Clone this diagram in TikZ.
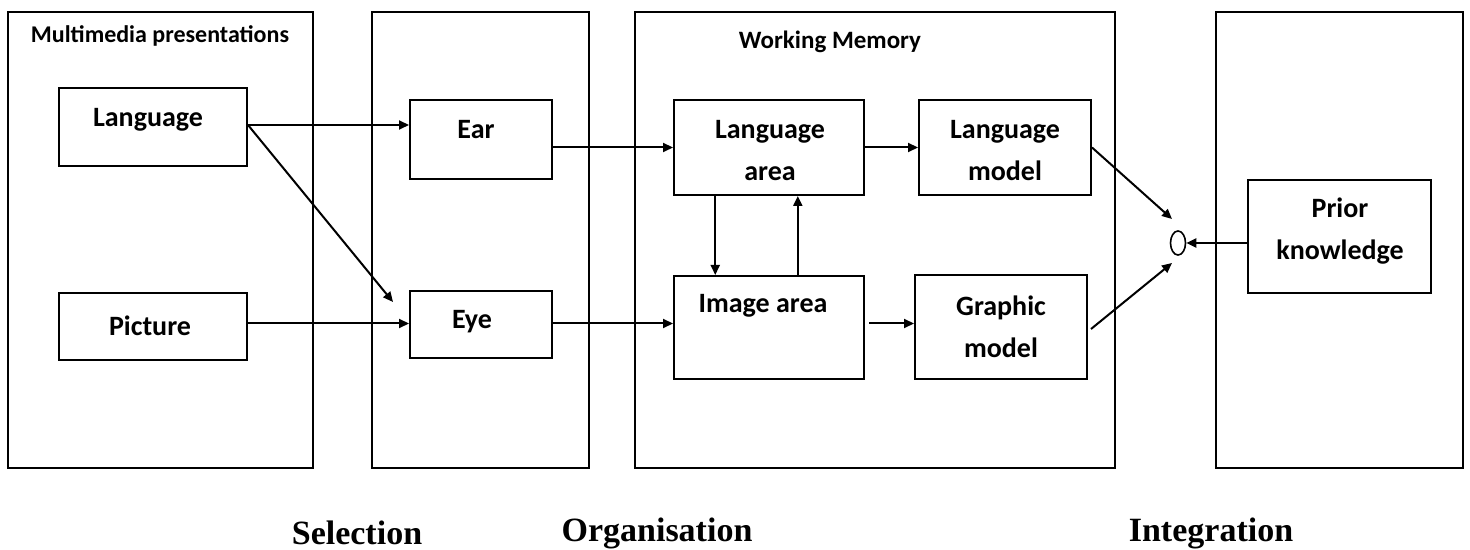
\documentclass[tikz,border=0pt]{standalone}
\usepackage{fontspec}
\setmainfont{Carlito}
\newfontfamily\labfont{Liberation Serif}
\usetikzlibrary{arrows.meta,shapes.geometric,fit,calc}
\begin{document}
\begin{tikzpicture}[x=0.5pt,y=-0.5pt,
  frame/.style={draw,line width=1pt,inner sep=0pt},
  box/.style={draw,line width=1pt,inner sep=0pt},
  txt/.style={font=\bfseries\fontsize{14}{21}\selectfont,align=center,inner sep=0pt},
  head/.style={font=\bfseries\fontsize{12}{14}\selectfont,inner sep=0pt},
  phase/.style={font=\labfont\bfseries\fontsize{17}{20}\selectfont,inner sep=0pt},
  arr/.style={line width=1pt,-{Triangle[length=5pt,width=4.5pt]}}]
\useasboundingbox (0,0) rectangle (1470,550);
% big frames
\node[frame,fit={(8,12)(313,468)}] (f1) {};
\node[frame,fit={(372,12)(589,468)}] (f2) {};
\node[frame,fit={(635,12)(1115,468)}] (f3) {};
\node[frame,fit={(1216,12)(1463,468)}] (f4) {};
% headings
\node[head] (hmm) at (160,36) {Multimedia presentations};
\node[head,font=\bfseries\fontsize{12.5}{14}\selectfont] (hwm) at (830,42) {Working Memory};
% inner boxes
\node[box,fit={(59,88)(247,166)}] (lang) {};
\node[box,fit={(59,293)(247,360)}] (pic) {};
\node[box,fit={(410,100)(552,179)}] (ear) {};
\node[box,fit={(410,291)(552,358)}] (eye) {};
\node[box,fit={(674,100)(864,195)}] (larea) {};
\node[box,fit={(674,276)(864,379)}] (iarea) {};
\node[box,fit={(919,100)(1091,195)}] (lmodel) {};
\node[box,fit={(915,275)(1087,379)}] (gmodel) {};
\node[box,fit={(1248,180)(1431,293)}] (prior) {};
\node[draw,line width=0.8pt,ellipse,inner sep=0pt,minimum width=7.5pt,minimum height=12pt] (el) at (1178,243) {};
% texts
\node[txt] (tlang) at (148,120) {Language};
\node[txt] (tpic) at (150,326) {Picture};
\node[txt] (tear) at (476,130) {Ear};
\node[txt] (teye) at (472,322) {Eye};
\node[txt] (tlarea) at (770,151) {Language\\area};
\node[txt] (tiarea) at (763,306) {Image area};
\node[txt] (tlmodel) at (1005,151) {Language\\model};
\node[txt] (tgmodel) at (1001,327) {Graphic\\model};
\node[txt] (tprior) at (1340,231) {Prior\\knowledge};
% bottom labels
\node[phase] (psel) at (357,533) {Selection};
\node[phase] (porg) at (657,533) {Organisation};
\node[phase] (pint) at (1211,533) {Integration};
% connectors
\coordinate (diagend) at ($(eye.north west)+(-16,12)$);
\draw[arr] ($(lang.east)+(0,-2)$) -- ($(lang.east -| ear.west)+(0,-2)$);
\draw[arr] ($(lang.east)+(0,-2)$) -- (diagend);
\draw[arr] ($(pic.east)+(0,-3)$) -- ($(pic.east -| eye.west)+(0,-3)$);
\draw[arr] (larea.west -| ear.east) -- (larea.west);
\draw[arr] ($(eye.east)+(0,-1)$) -- ($(eye.east -| iarea.west)+(0,-1)$);
\draw[arr] (larea.east) -- (lmodel.west);
\draw[arr] ($(iarea.east)+(4,-4)$) -- ($(iarea.east -| gmodel.west)+(0,-4)$);
\draw[arr] ($(larea.south west)!0.22!(larea.south east)$) -- ($(iarea.north west)!0.22!(iarea.north east)$);
\draw[arr] ($(iarea.north west)!0.65!(iarea.north east)$) -- ($(larea.south west)!0.65!(larea.south east)$);
\coordinate (elin1) at ($(el.center)+(-6,-24)$);
\coordinate (elin2) at ($(el.center)+(-6,20)$);
\draw[arr] (lmodel.east) -- (elin1);
\draw[arr] ($(gmodel.east)+(3,2)$) -- (elin2);
\draw[arr] (prior.west |- el.east) -- (el.east);
\end{tikzpicture}
\end{document}
